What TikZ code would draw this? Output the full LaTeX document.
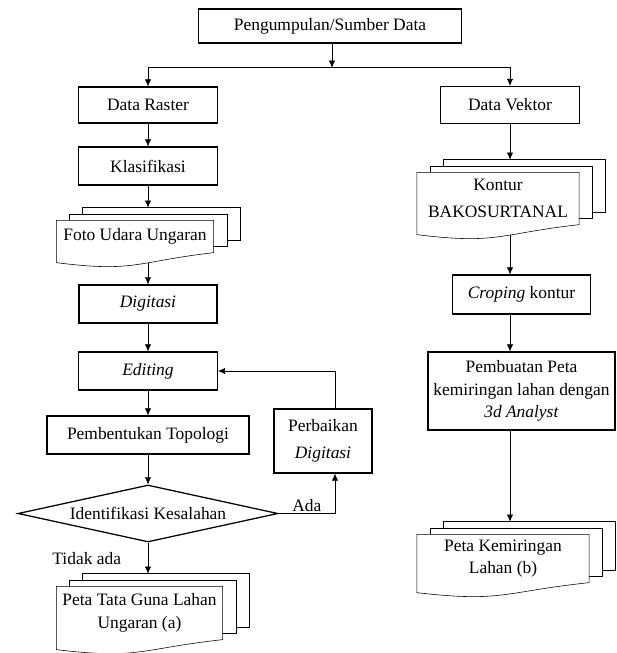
\documentclass[tikz,border=0pt]{standalone}
\usepackage{fontspec}
\setmainfont{Liberation Serif}
\usetikzlibrary{shapes.geometric,arrows.meta,calc,backgrounds}

% three stacked documents behind a node (front one with a wavy bottom)
\newcommand{\multidoc}[1]{%
	\begin{pgfonlayer}{background}
		\draw[fill=white] ($(#1.north west)+(0.66,0.32)$) rectangle ($(#1.south east)+(0.66,0.32)$);
		\draw[fill=white] ($(#1.north west)+(0.33,0.16)$) rectangle ($(#1.south east)+(0.33,0.16)$);
		\draw[fill=white] (#1.north west) -- (#1.north east) -- (#1.south east)
			.. controls ($(#1.south)+(0,-0.23)$) and ($(#1.south)+(0,-0.5)$) .. ($(#1.south west)+(0,-0.25)$) -- cycle;
	\end{pgfonlayer}
	\coordinate (#1-in) at ($(#1.north)+(0,0.32)$);
	\coordinate (#1-out) at ($(#1.south)+(0,-0.26)$);}

\begin{document}
\begin{tikzpicture}[node distance=1.5cm, line width=0.9pt, >={Latex[length=5pt,width=4.5pt]},
	font=\fontsize{12.4}{16}\selectfont,
	box/.style={draw, fill=white, align=center, inner sep=2pt},
	doc/.style={align=center, inner sep=2pt},
	decision/.style={draw, fill=white, diamond, aspect=4.56, inner sep=0pt, align=center}]
	\useasboundingbox (0,0) rectangle (15.425,-16.325);

	% Specification of nodes (position, etc.)
	\node (sumber)			at (8.25,-0.65) [box, minimum width=6.575cm, minimum height=0.85cm]
																									{Pengumpulan/Sumber Data};
	\node (dataRaster)	[below of=sumber, node distance=1.975cm, xshift=-4.55cm, box,
												minimum width=3.475cm, minimum height=0.9cm]	{Data Raster};
	\node (dataVektor)	[right of=dataRaster, node distance=9.05cm, box,
												minimum width=3.475cm, minimum height=0.925cm]	{Data Vektor};
	\node (klasifikasi)	[below of=dataRaster, node distance=1.525cm, box,
												minimum width=3.475cm, minimum height=0.95cm]	{Klasifikasi};
	\node (foto)				[below of=klasifikasi, node distance=1.7625cm, xshift=-0.325cm, doc,
												minimum width=3.9cm, minimum height=0.775cm]	{Foto Udara Ungaran};
	\node (digitasi)		[below of=foto, node distance=1.6875cm, xshift=0.325cm, box,
												minimum width=3.45cm, minimum height=0.95cm]	{\textit{Digitasi}};
	\node (editing)			[below of=digitasi, node distance=1.675cm, box,
												minimum width=3.475cm, minimum height=0.95cm]	{\textit{Editing}};
	\node (topologi)		[below of=editing, node distance=1.6cm, box,
												minimum width=5.05cm, minimum height=0.95cm]	{Pembentukan Topologi};
	\node (identifikasi)[below of=topologi, node distance=1.9625cm, decision,
												minimum width=6.5cm, minimum height=1.425cm]	{Identifikasi Kesalahan};
	\node (tataGuna)		[below of=identifikasi, node distance=2.4875cm, xshift=-0.2125cm, doc,
												minimum width=4.125cm, minimum height=1.3cm]	{Peta Tata Guna Lahan\\Ungaran (a)};
	\node (perbaikan)		[right of=topologi, node distance=4.375cm, yshift=-0.15cm, box,
												minimum width=2.45cm, minimum height=1.6cm]	{Perbaikan\\[3pt]\textit{Digitasi}};
	\node (kontur)			[below of=dataVektor, node distance=2.3375cm, xshift=-0.3cm, doc,
												minimum width=4.025cm, minimum height=1.275cm]	{Kontur\\[3pt]BAKOSURTANAL};
	\node (croping)			[below of=kontur, node distance=2.4cm, xshift=0.5875cm, box,
												minimum width=3.45cm, minimum height=0.975cm]	{\textit{Croping} kontur};
	\node (pembuatan)		[below of=croping, node distance=2.4125cm, box,
												minimum width=4.675cm, minimum height=1.95cm]
																									{Pembuatan Peta\\kemiringan lahan dengan\\\textit{3d Analyst}};
	\node (kemiringan)	[below of=pembuatan, node distance=4.1875cm, xshift=-0.4625cm, doc,
												minimum width=4.275cm, minimum height=1.175cm]	{Peta Kemiringan\\Lahan (b)};

	\multidoc{foto}
	\multidoc{tataGuna}
	\multidoc{kontur}
	\multidoc{kemiringan}
	\coordinate (split) at ($(sumber.south)+(0.05,-0.6)$);

	% Specification of lines between nodes specified above
	\draw[->]						(sumber.south -| split) -- (split);
	\draw[->]						(split) -| (dataRaster);
	\draw[->]						(split) -| (dataVektor);
	\draw[->]						(dataRaster) -- (klasifikasi);
	\draw[->]						(klasifikasi) -- (foto-in -| klasifikasi);
	\draw[->]						(foto-out -| klasifikasi) -- (digitasi);
	\draw[->]						(digitasi) -- (editing);
	\draw[->]						(editing) -- (topologi);
	\draw[->]						(topologi) -- (identifikasi);
	\draw[->]						(identifikasi.south) -- node (tidakAda) [left, xshift=-0.55cm] {Tidak ada}
												(tataGuna-in -| identifikasi);
	\draw[->]						(identifikasi.east) -| node (ada) [pos=0.25, above, inner sep=1pt] {Ada}
												($(perbaikan.south)+(0.3,0)$);
	\draw[->]						($(perbaikan.north)+(0.3,0)$) |- (editing.east);
	\draw[->]						(dataVektor) -- (kontur-in -| dataVektor);
	\draw[->]						(kontur-out -| dataVektor) -- (croping.north -| dataVektor);
	\draw[->]						(croping.south -| dataVektor) -- (pembuatan.north -| dataVektor);
	\draw[->]						(pembuatan.south -| dataVektor) -- (kemiringan-in -| dataVektor);
\end{tikzpicture}
\end{document}
